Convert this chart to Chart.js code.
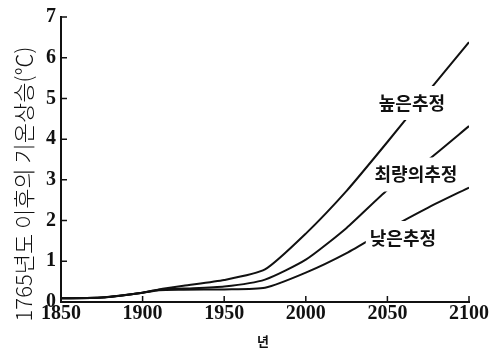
<!DOCTYPE html>
<html>
<head>
<meta charset="utf-8">
<style>
  html, body { margin: 0; padding: 0; background: #fff; }
  #wrap { width: 501px; height: 349px; position: relative; }
</style>
<script src="https://cdn.jsdelivr.net/npm/chart.js@4/dist/chart.umd.min.js"></script>
</head>
<body>
<div id="wrap"><canvas id="c"></canvas></div>
<script>
// Years sampled along each projection
const years = [1850, 1875, 1900, 1910, 1925, 1950, 1975, 2000, 2025, 2050, 2075, 2100];

// Temperature rise since 1765 (°C)
const highEstimate = [0.09, 0.11, 0.23, 0.31, 0.40, 0.54, 0.80, 1.68, 2.73, 3.93, 5.17, 6.38];
const bestEstimate = [0.09, 0.11, 0.23, 0.30, 0.33, 0.38, 0.55, 1.04, 1.82, 2.75, 3.49, 4.32];
const lowEstimate  = [0.09, 0.11, 0.23, 0.29, 0.30, 0.31, 0.35, 0.72, 1.20, 1.78, 2.32, 2.81];

const seriesNames = ['높은추정', '최량의추정', '낮은추정'];

// Where each series name sits, in (year, °C)
const labelYears  = [2065, 2067.5, 2059.5];
const labelValues = [4.89, 3.13, 1.57];

const xTicks = [1850, 1900, 1950, 2000, 2050, 2100];
const yTicks = [0, 1, 2, 3, 4, 5, 6, 7];

const yTitle = '1765년도 이후의 기온상승(℃)';
const xTitle = '년';

const INK = '#111';
const LABEL_FONT = 'bold 18px "Noto Sans CJK KR"';

function toPoints(vals) {
  return years.map((y, i) => ({ x: y, y: vals[i] }));
}

function labelBox(chart, i) {
  const ctx = chart.ctx;
  ctx.save();
  ctx.font = LABEL_FONT;
  const w = ctx.measureText(seriesNames[i]).width;
  ctx.restore();
  const cx = chart.scales.x.getPixelForValue(labelYears[i]);
  const cy = chart.scales.y.getPixelForValue(labelValues[i]);
  return { cx, cy, w, h: 18 };
}

// Each line breaks where its own name is written
const labelGap = {
  id: 'labelGap',
  beforeDatasetDraw(chart, args) {
    const b = labelBox(chart, args.index);
    const ctx = chart.ctx;
    ctx.save();
    ctx.beginPath();
    ctx.rect(0, 0, chart.width, chart.height);
    ctx.rect(b.cx - b.w / 2 - 4, b.cy - b.h / 2 - 8, b.w + 8, b.h + 16);
    ctx.clip('evenodd');
  },
  afterDatasetDraw(chart) {
    chart.ctx.restore();
  }
};

// Inward tick marks, series names and axis titles
const decorations = {
  id: 'decorations',
  afterDraw(chart) {
    const ctx = chart.ctx;
    const xs = chart.scales.x, ys = chart.scales.y;
    const left = chart.chartArea.left, bottom = chart.chartArea.bottom;
    ctx.save();
    ctx.strokeStyle = INK;
    ctx.lineWidth = 1.5;
    ctx.beginPath();
    yTicks.forEach(v => {
      if (v === 0) return;
      const py = ys.getPixelForValue(v);
      ctx.moveTo(left, py);
      ctx.lineTo(left + 6, py);
    });
    xTicks.forEach(v => {
      if (v === xTicks[0]) return;
      const px = xs.getPixelForValue(v);
      ctx.moveTo(px, bottom);
      ctx.lineTo(px, bottom - 6);
    });
    ctx.stroke();

    ctx.fillStyle = INK;
    ctx.textAlign = 'center';
    ctx.textBaseline = 'middle';
    ctx.font = LABEL_FONT;
    seriesNames.forEach((name, i) => {
      const b = labelBox(chart, i);
      ctx.fillText(name, b.cx, b.cy);
    });

    // y title, rotated
    ctx.save();
    ctx.translate(24, 184);
    ctx.rotate(-Math.PI / 2);
    ctx.font = '300 22px "Noto Sans CJK KR"';
    ctx.fillText(yTitle, 0, 0);
    ctx.restore();

    ctx.font = 'bold 13px "Noto Sans CJK KR"';
    ctx.fillText(xTitle, 263, 341);
    ctx.restore();
  }
};

const lineStyle = {
  borderColor: INK,
  borderWidth: 2,
  pointRadius: 0,
  fill: false,
  tension: 0.2
};

new Chart(document.getElementById('c'), {
  type: 'line',
  data: {
    datasets: [
      Object.assign({ label: seriesNames[0], data: toPoints(highEstimate) }, lineStyle),
      Object.assign({ label: seriesNames[1], data: toPoints(bestEstimate) }, lineStyle),
      Object.assign({ label: seriesNames[2], data: toPoints(lowEstimate) }, lineStyle)
    ]
  },
  options: {
    responsive: true,
    maintainAspectRatio: false,
    animation: false,
    events: [],
    layout: { padding: { left: 0, top: 16, right: 32, bottom: 0 } },
    plugins: { legend: { display: false }, tooltip: { enabled: false } },
    scales: {
      x: {
        type: 'linear',
        min: 1850,
        max: 2100,
        afterFit(s) { s.height = 47; },
        afterBuildTicks(s) { s.ticks = xTicks.map(v => ({ value: v })); },
        grid: { display: true, drawOnChartArea: false, drawTicks: false },
        border: { display: true, color: INK, width: 2 },
        ticks: {
          color: INK,
          padding: 0,
          maxRotation: 0,
          callback: v => String(v),
          font: { family: '"Liberation Serif"', size: 20, weight: 'bold' }
        }
      },
      y: {
        type: 'linear',
        min: 0,
        max: 7,
        afterFit(s) { s.width = 61; },
        afterBuildTicks(s) { s.ticks = yTicks.map(v => ({ value: v })); },
        grid: { display: true, drawOnChartArea: false, drawTicks: false },
        border: { display: true, color: INK, width: 2 },
        ticks: {
          color: INK,
          padding: 5,
          callback: v => String(v),
          font: { family: '"Liberation Serif"', size: 20, weight: 'bold' }
        }
      }
    }
  },
  plugins: [labelGap, decorations]
});
</script>
</body>
</html>
